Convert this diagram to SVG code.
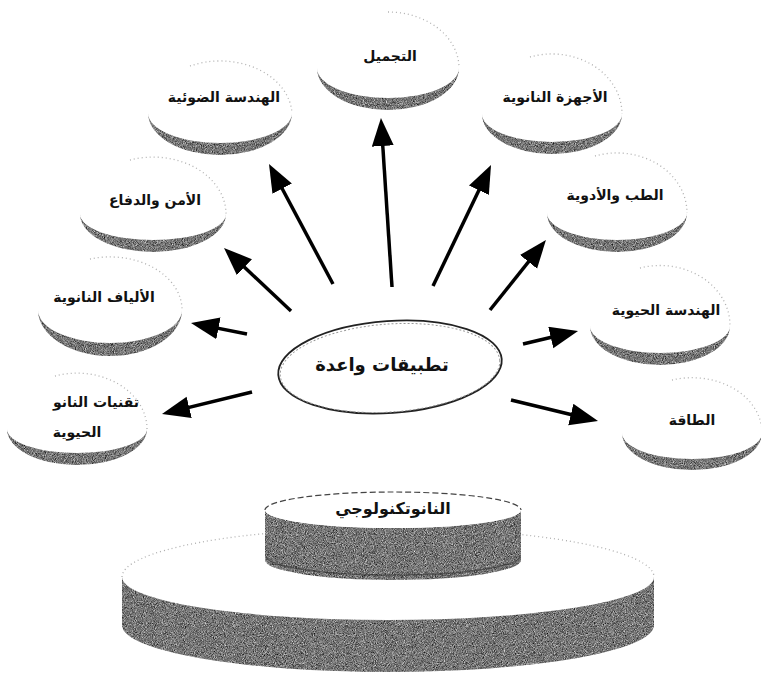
<svg xmlns="http://www.w3.org/2000/svg" width="761" height="684" viewBox="0 0 761 684">
<defs>
<style>
.face{fill:#fff;stroke:none;}
.rim{fill:none;stroke:#b0b0b0;stroke-width:1.3;stroke-dasharray:1 3;}
.shade{fill:#7a7a7a;filter:url(#grain);}
.lbl{font-family:"DejaVu Sans",sans-serif;font-size:14px;font-weight:bold;fill:#111;text-anchor:middle;dominant-baseline:central;}
.big{font-size:18px;}
.mid{font-size:16px;}
.conn line{stroke:#000;stroke-width:3.5;marker-end:url(#head);}
</style>
<filter id="grain" filterUnits="objectBoundingBox" x="0" y="0" width="1" height="1" color-interpolation-filters="sRGB">
<feTurbulence type="fractalNoise" baseFrequency="1.1" numOctaves="2" seed="5" result="n"/>
<feColorMatrix in="n" type="matrix" values="0.33 0.33 0.33 0 0 0.33 0.33 0.33 0 0 0.33 0.33 0.33 0 0 0 0 0 0 1" result="g"/>
<feComponentTransfer in="g" result="c">
<feFuncR type="linear" slope="1.7" intercept="-0.38"/>
<feFuncG type="linear" slope="1.7" intercept="-0.38"/>
<feFuncB type="linear" slope="1.7" intercept="-0.38"/>
<feFuncA type="linear" slope="0" intercept="1"/>
</feComponentTransfer>
<feComposite in="c" in2="SourceGraphic" operator="in"/>
</filter>
<marker id="head" markerUnits="userSpaceOnUse" markerWidth="30" markerHeight="24" refX="18" refY="11" orient="auto">
<path d="M0,0 L28,11 L0,22 Z" fill="#000"/>
</marker>
</defs>
<rect width="761" height="684" fill="#fff"/>

<g id="base">
<path class="face" d="M122,577 A266,49 0 0 1 654,577 A266,43 0 0 1 122,577 Z"/>
<path class="rim" d="M122,577 A266,49 0 0 1 654,577"/>
<path class="shade" d="M122,577 A266,43 0 0 0 654,577 L654,625 A266,47 0 0 1 122,625 Z"/>
<path class="shade" d="M265,510 A128,18 0 0 0 521,510 L521,560 A128,20 0 0 1 265,560 Z"/>
<path d="M266,556 A127,19 0 0 0 520,556" fill="none" stroke="#333" stroke-width="1.5" opacity="0.6"/>
<path d="M265,510 A128,18 0 0 1 521,510 A128,18 0 0 1 265,510 Z" fill="#fff"/>
<path d="M265,510 A128,18 0 0 1 521,510" fill="none" stroke="#444" stroke-width="1.2" stroke-dasharray="6 3"/>
<text class="lbl mid" x="393" y="508">النانوتكنولوجي</text>
</g>

<g id="n-tajmil">
<path class="face" d="M317,68 A71,56 0 0 1 459,68 A71,30 0 0 1 317,68 Z"/>
<path class="rim" d="M388,12 A71,56 0 0 1 459,68"/>
<path class="shade" d="M317,68 A71,30 0 0 0 459,68 A71,42 0 0 1 317,68 Z"/>
<text class="lbl" x="390" y="56">التجميل</text>
</g>
<g id="n-optics">
<path class="face" d="M148,113 A72,55 0 0 1 292,113 A72,30 0 0 1 148,113 Z"/>
<path class="rim" d="M190,66 A72,55 0 0 1 292,113"/>
<path class="shade" d="M148,113 A72,30 0 0 0 292,113 A72,42 0 0 1 148,113 Z"/>
<text class="lbl" x="224" y="97">الهندسة الضوئية</text>
</g>
<g id="n-devices">
<path class="face" d="M482,114 A70,60 0 0 1 622,114 A70,28 0 0 1 482,114 Z"/>
<path class="rim" d="M530,57 A70,60 0 0 1 622,114"/>
<path class="shade" d="M482,114 A70,28 0 0 0 622,114 A70,40 0 0 1 482,114 Z"/>
<text class="lbl" x="555" y="97">الأجهزة النانوية</text>
</g>
<g id="n-defense">
<path class="face" d="M80,214 A73,57 0 0 1 226,214 A73,26 0 0 1 80,214 Z"/>
<path class="rim" d="M130,160 A73,57 0 0 1 226,214"/>
<path class="shade" d="M80,214 A73,26 0 0 0 226,214 A73,38 0 0 1 80,214 Z"/>
<text class="lbl" x="155" y="200">الأمن والدفاع</text>
</g>
<g id="n-medicine">
<path class="face" d="M547,213 A70,60 0 0 1 687,213 A70,27 0 0 1 547,213 Z"/>
<path class="rim" d="M595,156 A70,60 0 0 1 687,213"/>
<path class="shade" d="M547,213 A70,27 0 0 0 687,213 A70,39 0 0 1 547,213 Z"/>
<text class="lbl" x="615" y="195">الطب والأدوية</text>
</g>
<g id="n-fibers">
<path class="face" d="M38,310 A72,53 0 0 1 182,310 A72,33 0 0 1 38,310 Z"/>
<path class="rim" d="M90,259 A72,53 0 0 1 182,310"/>
<path class="shade" d="M38,310 A72,33 0 0 0 182,310 A72,46 0 0 1 38,310 Z"/>
<text class="lbl" x="104" y="297">الألياف النانوية</text>
</g>
<g id="n-bioeng">
<path class="face" d="M590,326 A70,60 0 0 1 730,326 A70,27 0 0 1 590,326 Z"/>
<path class="rim" d="M640,268 A70,60 0 0 1 730,326"/>
<path class="shade" d="M590,326 A70,27 0 0 0 730,326 A70,39 0 0 1 590,326 Z"/>
<text class="lbl" x="666" y="310">الهندسة الحيوية</text>
</g>
<g id="n-nanobio">
<path class="face" d="M7,429 A70,56 0 0 1 147,429 A70,24 0 0 1 7,429 Z"/>
<path class="rim" d="M55,376 A70,56 0 0 1 147,429"/>
<path class="shade" d="M7,429 A70,24 0 0 0 147,429 A70,36 0 0 1 7,429 Z"/>
<text class="lbl" x="96" y="402">تقنيات النانو</text>
<text class="lbl" x="77" y="432">الحيوية</text>
</g>
<g id="n-energy">
<path class="face" d="M622,433 A70,55 0 0 1 762,433 A70,26 0 0 1 622,433 Z"/>
<path class="rim" d="M672,380 A70,55 0 0 1 762,433"/>
<path class="shade" d="M622,433 A70,26 0 0 0 762,433 A70,37 0 0 1 622,433 Z"/>
<text class="lbl" x="692" y="420">الطاقة</text>
</g>

<g id="center">
<ellipse cx="390" cy="367" rx="112" ry="46" transform="rotate(-4 390 367)" fill="#fff" stroke="#222" stroke-width="1.8"/>
<ellipse cx="390" cy="368" rx="110" ry="44" transform="rotate(-4 390 368)" fill="none" stroke="#999" stroke-width="1" stroke-dasharray="2 2"/>
<text class="lbl big" x="382" y="364">تطبيقات واعدة</text>
</g>

<g class="conn" id="connectors">
<line x1="392" y1="287" x2="381.6" y2="128"/>
<line x1="333" y1="284" x2="273.7" y2="172.8"/>
<line x1="291" y1="311" x2="231.3" y2="254.8"/>
<line x1="247" y1="334" x2="200.8" y2="324.9"/>
<line x1="252" y1="392" x2="171.7" y2="411.6"/>
<line x1="433" y1="286" x2="486.7" y2="174"/>
<line x1="490" y1="310" x2="539.7" y2="247.8"/>
<line x1="523" y1="344" x2="568.3" y2="333.3"/>
<line x1="511" y1="400" x2="588.3" y2="418.7"/>
</g>
</svg>
